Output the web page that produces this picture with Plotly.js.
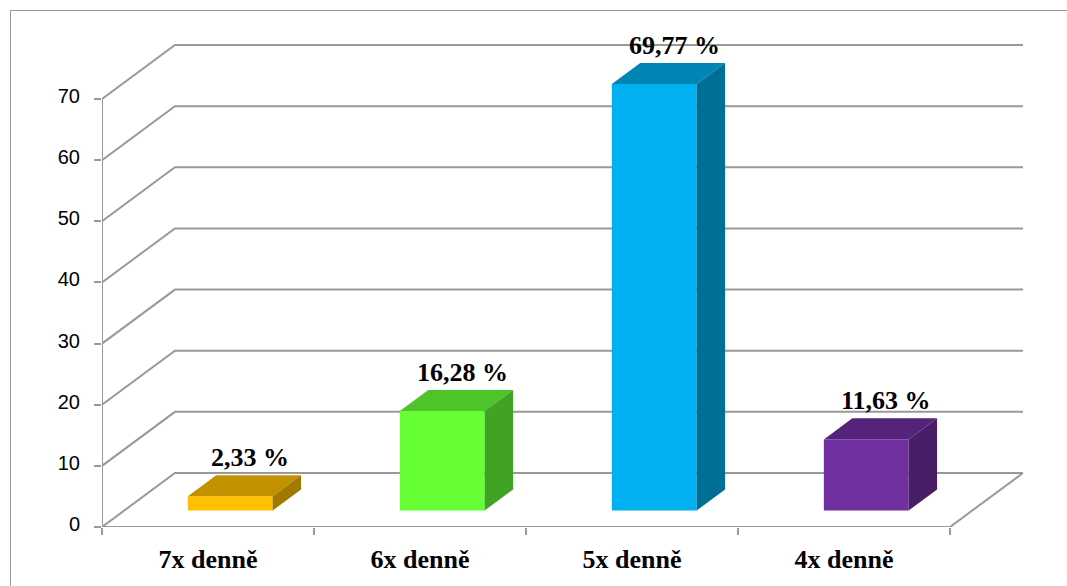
<!DOCTYPE html>
<html>
<head>
<meta charset="utf-8">
<script src="https://cdn.plot.ly/plotly-3.0.1.min.js"></script>
<style>
  html, body { margin: 0; padding: 0; background: #ffffff; }
  #wrap { position: relative; width: 1067px; height: 586px; overflow: hidden; }
  #chart { position: absolute; left: 0; top: 0; width: 1067px; height: 586px; }
  #frame { position: absolute; left: 10px; top: 10px; width: 1100px; height: 600px;
           border-left: 1px solid #9a9a9a; border-top: 1px solid #9a9a9a; pointer-events: none; }
</style>
</head>
<body>
<div id="wrap"><div id="chart"></div><div id="frame"></div></div>
<script>
// ---- data ----
const categories = ['7x denně', '6x denně', '5x denně', '4x denně'];
const values = [2.33, 16.28, 69.77, 11.63];
const yTicks = [0, 10, 20, 30, 40, 50, 60, 70];
const frontColors = ['#FFC000', '#66FF33', '#00B0F0', '#7030A0'];
const topColors   = ['#C29100', '#4EC32A', '#0085B4', '#55247A'];
const sideColors  = ['#A27900', '#41A323', '#006F96', '#481E67'];

// ---- 3D geometry (in axis units) ----
const nCat = categories.length;
const depthX = 0.344;   // floor depth, x direction (category units)
const depthY = 8.83;    // floor depth, y direction (value units)
const f1 = 0.305, f2 = 0.695;  // bar front / back depth fractions
const halfW = 0.2;
const gridColor = '#999999';

const traces = [];

// walls & floor lines
const gx = [], gy = [];
yTicks.forEach(v => {
  gx.push(0, depthX, nCat + depthX, null);
  gy.push(v, v + depthY, v + depthY, null);
});
// floor front edge, right edge
gx.push(0, nCat, nCat + depthX, null);
gy.push(0, 0, depthY, null);
// front-left vertical axis line
gx.push(0, 0, null);
gy.push(0, yTicks[yTicks.length - 1], null);
traces.push({type: 'scatter', mode: 'lines', x: gx, y: gy,
  line: {color: gridColor, width: 2}, hoverinfo: 'skip', showlegend: false});

// bars
const annotations = [];
values.forEach((v, i) => {
  const cx = i + 0.5 + f1 * depthX;
  const ox = (f2 - f1) * depthX;
  const oy1 = f1 * depthY, oy2 = f2 * depthY;
  const L = cx - halfW, R = cx + halfW;
  // front face
  traces.push({type: 'scatter', mode: 'lines', fill: 'toself',
    x: [L, R, R, L, L], y: [oy1, oy1, v + oy1, v + oy1, oy1],
    fillcolor: frontColors[i], line: {width: 0, color: frontColors[i]},
    hoverinfo: 'skip', showlegend: false});
  // top face
  traces.push({type: 'scatter', mode: 'lines', fill: 'toself',
    x: [L, R, R + ox, L + ox, L], y: [v + oy1, v + oy1, v + oy2, v + oy2, v + oy1],
    fillcolor: topColors[i], line: {width: 0, color: topColors[i]},
    hoverinfo: 'skip', showlegend: false});
  // side face
  traces.push({type: 'scatter', mode: 'lines', fill: 'toself',
    x: [R, R + ox, R + ox, R, R], y: [oy1, oy2, v + oy2, v + oy1, oy1],
    fillcolor: sideColors[i], line: {width: 0, color: sideColors[i]},
    hoverinfo: 'skip', showlegend: false});
  annotations.push({
    x: cx + 0.7 * ox, y: v + oy2, xref: 'x', yref: 'y',
    text: v.toFixed(2).replace('.', ',') + ' %',
    showarrow: false, yanchor: 'bottom', xanchor: 'center', yshift: 1,
    font: {family: 'Liberation Serif, Times New Roman, serif', size: 26, color: '#000000', weight: 'bold'}
  });
});

const pxPerCat = 212, pxPerVal = 6.114;
const L_MARGIN = 102, R_MARGIN = 32, T_MARGIN = 30, B_MARGIN = 59;
const W = 1067, H = 586;

const layout = {
  width: W, height: H,
  margin: {l: L_MARGIN, r: R_MARGIN, t: T_MARGIN, b: B_MARGIN, pad: 0},
  paper_bgcolor: 'rgba(0,0,0,0)', plot_bgcolor: 'rgba(0,0,0,0)',
  showlegend: false,
  xaxis: {
    range: [0, (W - L_MARGIN - R_MARGIN) / pxPerCat],
    tickmode: 'array',
    tickvals: categories.map((c, i) => i + 0.5),
    ticktext: categories,
    ticks: '', showgrid: false, zeroline: false, showline: false,
    ticklabelstandoff: 14,
    tickfont: {family: 'Liberation Serif, Times New Roman, serif', size: 26, color: '#000000', weight: 'bold'},
    minor: {tickmode: 'array', tickvals: categories.map((c, i) => i).concat([nCat]),
            ticks: 'outside', ticklen: 7, tickwidth: 2, tickcolor: gridColor, showgrid: false},
    fixedrange: true
  },
  yaxis: {
    range: [0, (H - T_MARGIN - B_MARGIN) / pxPerVal],
    tickmode: 'array', tickvals: yTicks, ticktext: yTicks.map(String),
    ticks: 'outside', ticklen: 7, tickwidth: 2, tickcolor: gridColor,
    showgrid: false, zeroline: false, showline: false,
    ticklabelstandoff: 10,
    ticklabelshift: -3,
    tickfont: {family: 'Liberation Sans, Arial, sans-serif', size: 20, color: '#000000'},
    fixedrange: true
  },
  annotations: annotations
};

Plotly.newPlot('chart', traces, layout, {displayModeBar: false, staticPlot: true});
</script>
</body>
</html>
